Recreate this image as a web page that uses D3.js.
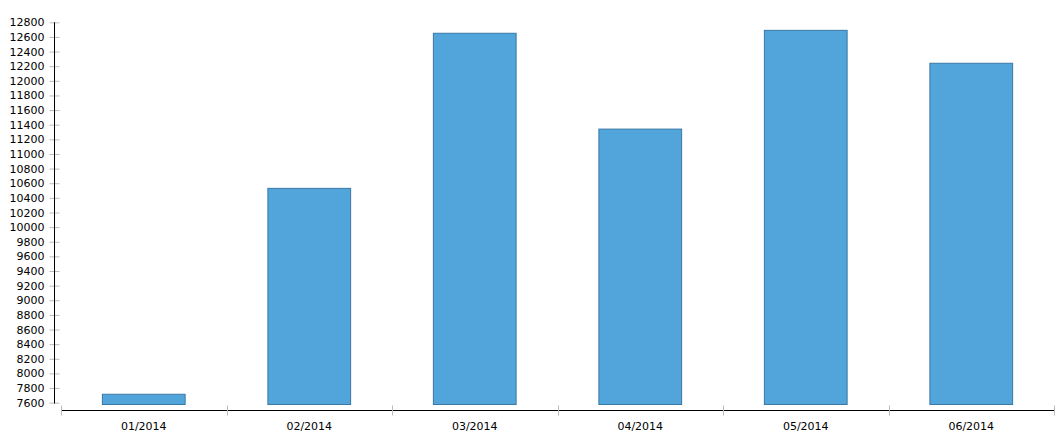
<!DOCTYPE html>
<html>
<head>
<meta charset="utf-8">
<script src="https://cdn.jsdelivr.net/npm/d3@7"></script>
<style>
  body { margin: 0; background: #fff; }
  text { font-family: "DejaVu Sans", Verdana, sans-serif; font-size: 11px; fill: #000; }
</style>
</head>
<body>
<div id="chart"></div>
<script>
// Chart data
const months = ["01/2014", "02/2014", "03/2014", "04/2014", "05/2014", "06/2014"];
const values = [7715, 10530, 12650, 11340, 12690, 12240];
const yTicks = d3.range(7600, 12801, 200);

const width = 1062, height = 437;

const svg = d3.select("#chart")
  .append("svg")
  .attr("width", width)
  .attr("height", height);

// Scales
const x = d3.scaleBand()
  .domain(months)
  .range([61, 1054])
  .paddingInner(0)
  .paddingOuter(0);

const y = d3.scaleLinear()
  .domain([7575, 12800])
  .range([404.5, 22.3]);

// Bars
const barW = x.bandwidth() * 0.5;
svg.append("g")
  .selectAll("rect")
  .data(values)
  .join("rect")
  .attr("x", (d, i) => x(months[i]) + (x.bandwidth() - barW) / 2)
  .attr("y", (d) => y(d))
  .attr("width", barW)
  .attr("height", (d) => y.range()[0] - y(d))
  .attr("fill", "#51a5db")
  .attr("stroke", "#3a78a6")
  .attr("stroke-width", 1);

// Y axis
const yAxis = svg.append("g")
  .attr("transform", "translate(54.5,0)")
  .call(d3.axisLeft(y).tickValues(yTicks).tickSize(0).tickPadding(10).tickFormat(d3.format("d")));
yAxis.select(".domain").remove();
yAxis.selectAll("text").style("font-size", "11px");
yAxis.selectAll(".tick")
  .append("line")
  .attr("x1", -5).attr("x2", 5)
  .attr("stroke", "#bbb");
svg.append("line")
  .attr("x1", 54.5).attr("x2", 54.5)
  .attr("y1", y(12800)).attr("y2", 403.5)
  .attr("stroke", "#000");

// X axis
const xAxis = svg.append("g")
  .attr("transform", "translate(0,410.5)")
  .call(d3.axisBottom(x).tickSize(0).tickPadding(12));
xAxis.select(".domain").attr("stroke", "#000").attr("d", `M61,0H1054`);
xAxis.selectAll("text").style("font-size", "11px");

// Band boundary ticks
const bounds = months.map((m) => x(m)).concat([x.range()[1]]);
xAxis.selectAll(".bound")
  .data(bounds)
  .join("line")
  .attr("class", "bound")
  .attr("x1", (d) => Math.round(d) + 0.5)
  .attr("x2", (d) => Math.round(d) + 0.5)
  .attr("y1", -5).attr("y2", 5)
  .attr("stroke", "#bbb");
</script>
</body>
</html>
